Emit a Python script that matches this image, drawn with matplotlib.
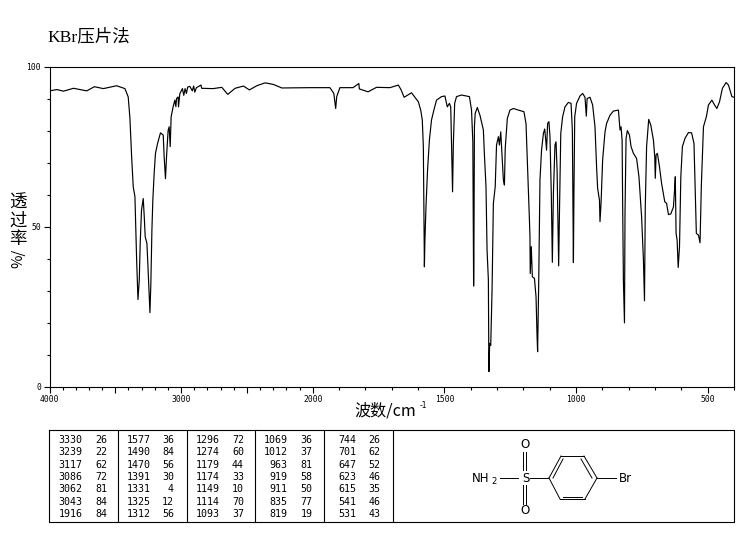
# -*- coding: utf-8 -*-
import numpy as np
import matplotlib
matplotlib.use('Agg')
import matplotlib.pyplot as plt
from matplotlib import ticker

W, H = 748, 539
CJK = ['Noto Sans CJK SC', 'DejaVu Sans']

# spectrum
wave_high = [4000, 3944, 3894, 3818, 3717, 3659, 3591, 3490, 3427, 3402, 3389, 3376, 3364, 3351, 3338, 3328,
             3318, 3311, 3301, 3288, 3280, 3273, 3260, 3253, 3237, 3230, 3222, 3215, 3205, 3195, 3179, 3157,
             3136, 3129, 3119, 3111, 3099, 3091, 3083, 3076, 3061, 3048, 3040, 3035, 3023, 3020, 3010, 2990,
             2980, 2970, 2960, 2950, 2934, 2915, 2905, 2896, 2884, 2849, 2844, 2758, 2691, 2646, 2590, 2527,
             2481, 2425, 2362, 2299, 2235, 2020]
trans_high = [92.4, 92.8, 92.3, 93.2, 92.4, 93.7, 93.1, 94.0, 93.1, 90.5, 83.8, 71.8, 62.5, 59.4, 39.6, 27.3,
              33.4, 44.8, 55.2, 58.8, 53.0, 46.9, 44.8, 38.6, 23.2, 32.3, 49.0, 58.3, 66.6, 72.9, 76.0, 79.3,
              78.6, 71.8, 65.0, 71.8, 80.0, 81.2, 75.0, 84.3, 87.4, 89.5, 87.5, 90.0, 90.5, 87.4, 91.5, 93.1,
              91.0, 93.1, 91.6, 93.6, 93.8, 92.4, 93.9, 92.0, 93.4, 94.2, 93.2, 93.1, 93.5, 91.3, 93.2, 93.9,
              92.7, 94.0, 94.9, 94.4, 93.3, 93.4]

wave_mid = [1935, 1920, 1913, 1909, 1897, 1847, 1825, 1823, 1790, 1758, 1707, 1675, 1665, 1653, 1625, 1599,
            1590, 1584, 1580, 1578, 1576, 1574, 1570, 1564, 1557, 1549, 1540, 1530, 1511, 1498, 1489, 1481,
            1476, 1473, 1469, 1466, 1461, 1454, 1435, 1405, 1397, 1392, 1389, 1388, 1386, 1383, 1375, 1365,
            1352, 1348, 1342, 1338, 1333, 1331, 1328, 1324, 1319, 1314, 1307, 1302, 1295, 1291, 1286, 1281,
            1276, 1272, 1269, 1261, 1251, 1238, 1219, 1198, 1190, 1185, 1177, 1175, 1174, 1170, 1166, 1158,
            1152, 1148, 1146, 1142, 1137, 1131, 1124, 1119, 1115, 1112, 1108, 1103, 1099, 1094, 1090, 1086,
            1080, 1076, 1072, 1068, 1066, 1063, 1058, 1051]
trans_mid = [93.4, 91.6, 86.9, 90.6, 93.4, 93.4, 94.7, 93.0, 92.1, 93.5, 93.4, 94.2, 92.8, 90.4, 91.8, 89.0,
             86.4, 83.3, 75.0, 55.2, 37.5, 45.8, 56.2, 67.7, 77.0, 83.3, 86.4, 89.5, 90.6, 90.8, 87.4, 88.5,
             87.4, 76.0, 60.9, 76.0, 88.5, 90.6, 91.1, 90.6, 86.4, 76.5, 31.5, 39.6, 81.2, 85.4, 87.2, 84.8,
             80.2, 72.4, 62.5, 42.7, 33.4, 4.8, 13.6, 13.0, 30.2, 57.3, 62.5, 75.5, 78.1, 75.5, 79.6, 71.8,
             64.6, 63.0, 74.4, 83.8, 86.4, 86.9, 86.4, 85.9, 82.2, 70.8, 52.0, 46.9, 35.4, 43.8, 34.4, 33.9,
             28.2, 15.7, 11.0, 31.3, 64.6, 73.9, 79.1, 80.5, 77.0, 73.9, 82.2, 82.8, 78.1, 60.4, 38.9, 60.4,
             75.5, 76.5, 67.7, 47.9, 37.8, 54.2, 79.1, 84.3]

wave_low = [1042, 1029, 1019, 1014, 1010, 1008, 1005, 998, 985, 975, 966, 961, 958, 947, 937, 928,
            922, 918, 911, 909, 905, 899, 890, 884, 871, 858, 839, 833, 829, 825, 823, 820,
            816, 814, 810, 805, 797, 791, 782, 770, 761, 751, 744, 740, 737, 732, 724, 716,
            706, 701, 699, 696, 691, 683, 675, 663, 656, 649, 640, 630, 625, 623, 620, 616,
            612, 607, 602, 596, 586, 573, 561, 552, 547, 543, 535, 529, 524, 516, 505, 497,
            484, 474, 465, 455, 444, 430, 421, 408, 400]
trans_low = [87.4, 88.8, 88.5, 80.2, 38.8, 60.4, 84.3, 88.5, 90.8, 91.6, 90.4, 84.5, 90.0, 90.4, 88.0, 81.2,
             68.7, 62.0, 58.3, 51.6, 57.3, 70.8, 79.6, 82.2, 84.8, 86.1, 86.4, 80.2, 81.2, 77.0, 57.3, 32.8,
             20.0, 54.2, 77.6, 80.0, 78.6, 75.0, 72.9, 71.3, 65.6, 53.1, 39.6, 26.9, 56.2, 75.0, 83.5, 81.7,
             77.0, 71.8, 65.1, 72.4, 72.9, 68.7, 63.5, 57.8, 57.3, 53.8, 54.0, 56.2, 62.5, 65.6, 47.9, 45.8,
             37.3, 43.8, 65.6, 75.0, 77.6, 79.4, 79.3, 76.0, 60.4, 47.9, 47.4, 45.0, 63.0, 81.2, 84.3, 88.0,
             89.5, 88.0, 86.9, 89.0, 93.2, 95.0, 94.2, 90.6, 90.4]

# peak table
peak_wave = [[3330, 3239, 3117, 3086, 3062, 3043, 1916],
             [1577, 1490, 1470, 1391, 1331, 1325, 1312],
             [1296, 1274, 1179, 1174, 1149, 1114, 1093],
             [1069, 1012, 963, 919, 911, 835, 819],
             [744, 701, 647, 623, 615, 541, 531]]
peak_trans = [[26, 22, 62, 72, 81, 84, 84],
              [36, 84, 56, 30, 4, 12, 56],
              [72, 60, 44, 33, 10, 70, 37],
              [36, 37, 81, 58, 50, 77, 19],
              [26, 62, 52, 46, 35, 46, 43]]

x_major = [4000, 3500, 3000, 2500, 2000, 1500, 1000, 500]
x_labels = ['4000', '', '3000', '', '2000', '1500', '1000', '500']
x_minor = list(range(400, 4000, 100))
y_major = [0, 50, 100]
y_minor = list(range(0, 101, 10))


def _forward(w):
    # the spectrometer chart halves the scale above 2000
    w = np.asarray(w, dtype=float)
    return np.where(w > 2000, 2000 + (w - 2000) / 2, w)


def _inverse(v):
    v = np.asarray(v, dtype=float)
    return np.where(v > 2000, 2000 + (v - 2000) * 2, v)


fig = plt.figure(figsize=(W / 100, H / 100), dpi=100)

# page overlay in pixel coords, for the table and the structure
page = fig.add_axes([0, 0, 1, 1])
page.set_xlim(0, W)
page.set_ylim(H, 0)
page.axis('off')

ax = fig.add_axes([49.5 / W, 1 - 387 / H, (734 - 49.5) / W, (387 - 66.5) / H])
ax.set_xscale('function', functions=(_forward, _inverse))
ax.plot(wave_high + wave_mid + wave_low, trans_high + trans_mid + trans_low, c='k', lw=0.85)
ax.set_xlim(4000, 400)
ax.set_ylim(0, 100)

ax.set_xticks(x_major)
ax.set_xticklabels(x_labels, family='DejaVu Sans Mono', fontsize=5.8)
ax.set_xticks(x_minor, minor=True)
ax.xaxis.set_minor_formatter(ticker.NullFormatter())
ax.set_yticks(y_major)
ax.set_yticklabels([str(v) for v in y_major], family='DejaVu Sans Mono', fontsize=5.8)
ax.set_yticks(y_minor, minor=True)
ax.tick_params(which='major', length=4, width=0.8, pad=2)
ax.tick_params(which='minor', length=2, width=0.8)
for s in ax.spines.values():
    s.set_linewidth(0.8)

# title and axis titles
page.text(47, 37, 'KBr压片法', family=['Liberation Serif', 'Noto Sans CJK SC'], fontsize=12.6, va='center', ha='left')
page.text(18, 221, '透\n过\n率', family=CJK, fontsize=12.6, va='center', ha='center', linespacing=1.0)
page.text(18, 258, '%/', family=CJK, fontsize=10.5, rotation=90, va='center', ha='center')
page.text(354, 411, '波数/cm', family=CJK, fontsize=11.6, va='center', ha='left')
page.text(420, 406, '-1', family='DejaVu Sans', fontsize=5.5, va='center', ha='left')

# table frame
page.plot([49.5, 734, 734, 49.5, 49.5], [430, 430, 522, 522, 430], c='k', lw=0.8)
for x in [118.3, 186.7, 255.3, 323.7, 392.7]:
    page.plot([x, x], [430, 522], c='k', lw=0.8)

wave_right = [82.5, 150.7, 220, 287.5, 356]
trans_right = [107, 174, 244, 312.7, 380.7]
for c in range(5):
    for r in range(7):
        y = 439.7 + 12.4 * r
        page.text(wave_right[c], y, str(peak_wave[c][r]), family='DejaVu Sans Mono', fontsize=7.2,
                  ha='right', va='center')
        page.text(trans_right[c], y, str(peak_trans[c][r]), family='DejaVu Sans Mono', fontsize=7.2,
                  ha='right', va='center')

# structure
bonds = [(500, 478, 518, 478), (530, 478, 548, 478), (597, 478, 616, 478),
         (549, 478, 561, 456), (561, 456, 584, 456), (584, 456, 597, 478),
         (597, 478, 585, 499), (585, 499, 560, 499), (560, 499, 549, 478),
         (553, 478, 563, 459), (581, 459, 592, 478), (563, 497, 582, 497),
         (523.5, 452, 523.5, 472), (526.5, 452, 526.5, 472),
         (523.5, 484, 523.5, 504), (526.5, 484, 526.5, 504)]
for x0, y0, x1, y1 in bonds:
    page.plot([x0, x1], [y0, y1], c='k', lw=0.7)
page.text(472, 478, 'NH', fontsize=8.5, ha='left', va='center')
page.text(491, 481, '2', fontsize=6, ha='left', va='center')
page.text(526, 478, 'S', fontsize=8.5, ha='center', va='center', bbox=dict(fc='white', ec='none', pad=0.5))
page.text(525.5, 444.5, 'O', fontsize=8.5, ha='center', va='center')
page.text(525.5, 510, 'O', fontsize=8.5, ha='center', va='center')
page.text(619, 478, 'Br', fontsize=8.5, ha='left', va='center')

plt.savefig('out.png', dpi=100)
